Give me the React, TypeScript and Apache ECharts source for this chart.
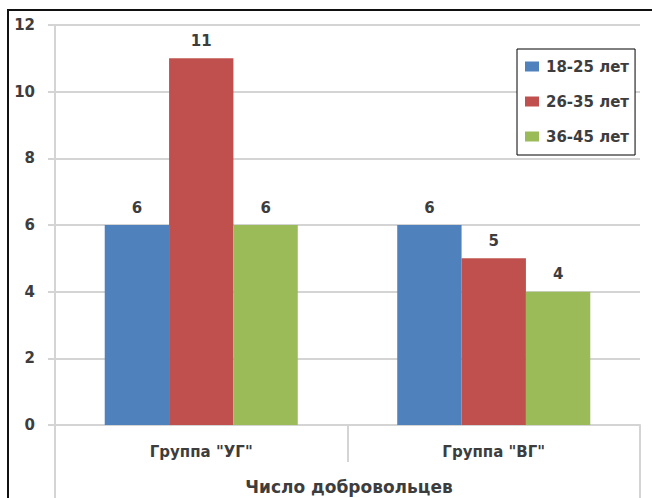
import React, { useEffect, useRef } from "react";
import * as echarts from "echarts";

const categories = ['Группа "УГ"', 'Группа "ВГ"'];
const seriesNames = ["18-25 лет", "26-35 лет", "36-45 лет"];
const age18to25 = [6, 6];
const age26to35 = [11, 5];
const age36to45 = [6, 4];
const yTicks = [0, 2, 4, 6, 8, 10, 12];
const axisTitle = "Число добровольцев";

const COLORS = ["#4F81BD", "#C0504D", "#9BBB59"];
const FONT = "'DejaVu Sans', 'Open Sans', sans-serif";
const TEXT = "#3d3d3d";
const GRID_LINE = "#d4d4d4";

export default function App() {
  const ref = useRef<HTMLDivElement>(null);

  useEffect(() => {
    if (!ref.current) return;
    const chart = echarts.init(ref.current, undefined, { renderer: "svg" });
    const values = [age18to25, age26to35, age36to45];

    chart.setOption({
      animation: false,
      backgroundColor: "#ffffff",
      textStyle: { fontFamily: FONT },
      grid: { left: 55, right: 12, top: 25, bottom: 73, containLabel: false },
      legend: {
        orient: "vertical",
        left: 517,
        top: 49,
        width: 122,
        padding: [10, 6, 11, 8],
        itemGap: 20,
        itemWidth: 14,
        itemHeight: 10,
        icon: "rect",
        borderColor: "#000",
        borderWidth: 1,
        backgroundColor: "#fff",
        data: seriesNames,
        textStyle: { fontFamily: FONT, fontSize: 15, fontWeight: "bold", color: TEXT, padding: [0, 0, 0, 2] },
      },
      xAxis: {
        type: "category",
        data: categories,
        axisLine: { show: true, lineStyle: { color: GRID_LINE, width: 2 } },
        axisTick: { show: true, length: 37, alignWithLabel: false, lineStyle: { color: GRID_LINE, width: 2 } },
        axisLabel: { fontFamily: FONT, fontSize: 15, fontWeight: "bold", color: TEXT, margin: 19 },
        splitLine: { show: false },
      },
      yAxis: {
        type: "value",
        min: yTicks[0],
        max: yTicks[yTicks.length - 1],
        interval: 2,
        axisLine: { show: true, lineStyle: { color: GRID_LINE, width: 2 } },
        axisTick: { show: true, length: 7, lineStyle: { color: GRID_LINE, width: 2 } },
        axisLabel: { fontFamily: FONT, fontSize: 15, fontWeight: "bold", color: TEXT, margin: 20 },
        splitLine: { show: true, lineStyle: { color: GRID_LINE, width: 2 } },
      },
      series: seriesNames.map((name, i) => ({
        name,
        type: "bar",
        data: values[i],
        barGap: "0%",
        barCategoryGap: "34%",
        itemStyle: { color: COLORS[i] },
        label: {
          show: true,
          position: "top",
          distance: 10,
          fontFamily: FONT,
          fontSize: 15,
          fontWeight: "bold",
          color: TEXT,
        },
      })),
      graphic: [
        {
          type: "line",
          shape: { x1: 55, y1: 425, x2: 55, y2: 498 },
          style: { stroke: GRID_LINE, lineWidth: 2 },
        },
        {
          type: "line",
          shape: { x1: 640, y1: 425, x2: 640, y2: 498 },
          style: { stroke: GRID_LINE, lineWidth: 2 },
        },
        {
          type: "text",
          x: 349,
          y: 487,
          style: {
            text: axisTitle,
            fontFamily: FONT,
            fontSize: 17,
            fontWeight: "bold",
            fill: TEXT,
            textAlign: "center",
            textVerticalAlign: "middle",
          },
        },
        {
          type: "rect",
          shape: { x: 8, y: 10, width: 660, height: 500 },
          style: { fill: "none", stroke: "#111", lineWidth: 2 },
          z: 100,
        },
      ],
    });

    return () => chart.dispose();
  }, []);

  return (
    <div
      ref={ref}
      style={{ position: "fixed", left: 0, top: 0, width: 652, height: 498 }}
    />
  );
}
